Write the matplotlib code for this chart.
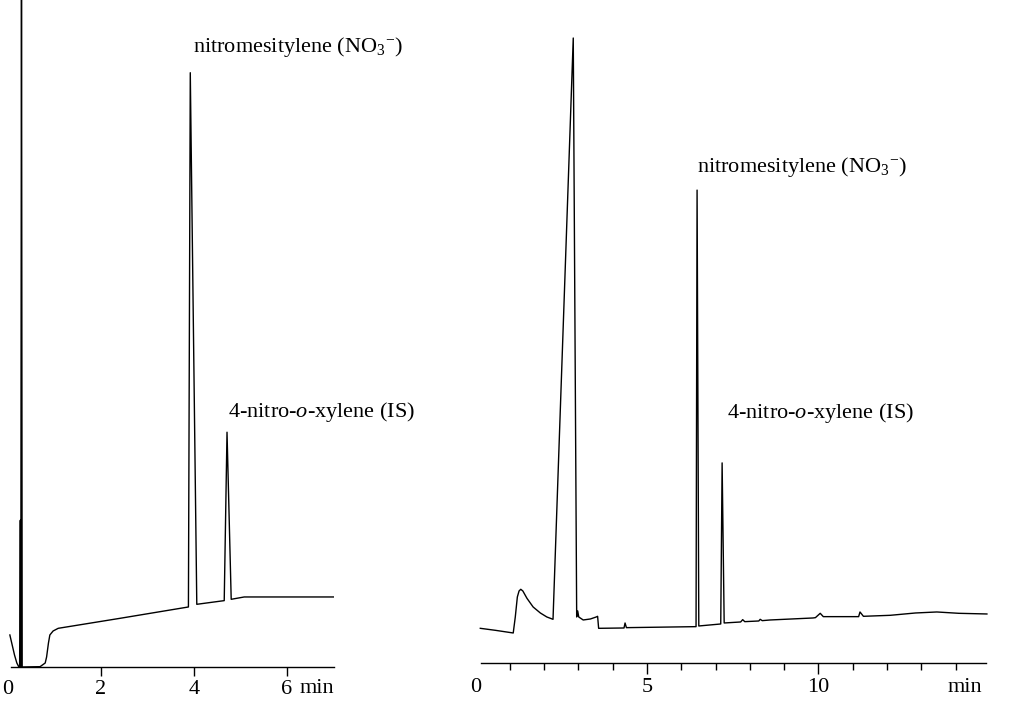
import matplotlib.pyplot as plt

plt.rcParams['font.family'] = ['Liberation Serif', 'DejaVu Serif']
plt.rcParams['mathtext.fontset'] = 'custom'
plt.rcParams['mathtext.rm'] = 'Liberation Serif'
plt.rcParams['mathtext.it'] = 'Liberation Serif:italic'

# Chap xromatogramma (vaqt, min / signal)
t_left = [0.04, 0.09, 0.14, 0.19, 0.23, 0.25, 0.265, 0.275, 0.29, 0.305, 0.69,
          0.80, 0.83, 0.87, 0.90, 0.97, 1.08, 2.41, 3.88, 3.92, 4.06, 4.65,
          4.71, 4.80, 5.08, 7.0]
y_left = [4.8, 3.3, 1.8, 0.6, 0.05, 0, 22.0, 0, 110, 0, 0.05,
          0.6, 1.5, 3.6, 4.8, 5.4, 5.8, 7.3, 9.0, 89.1, 9.4, 9.95,
          35.2, 10.15, 10.5, 10.5]

# O'ng xromatogramma
t_right = [0.14, 0.58, 1.10, 1.16, 1.22, 1.27, 1.32, 1.38, 1.50, 1.68, 1.89,
           2.08, 2.26, 2.85, 2.95, 2.98, 3.01, 3.14, 3.35, 3.52, 3.56, 3.59,
           4.33, 4.36, 4.40, 6.43, 6.46, 6.51, 7.15, 7.19, 7.25, 7.73, 7.79,
           7.85, 8.26, 8.30, 8.36, 8.59, 9.84, 9.91, 10.05, 10.14, 11.17,
           11.21, 11.31, 12.09, 12.83, 13.45, 14.09, 14.91]
y_right = [5.2, 4.9, 4.5, 6.9, 9.9, 10.8, 11.05, 10.8, 9.7, 8.4, 7.5,
           6.9, 6.55, 93.7, 6.9, 7.8, 6.9, 6.45, 6.6, 6.9, 7.0, 5.2,
           5.25, 6.0, 5.3, 5.45, 70.9, 5.55, 5.85, 30.0, 6.0, 6.15, 6.5,
           6.2, 6.3, 6.55, 6.35, 6.45, 6.75, 6.8, 7.45, 6.95, 6.95,
           7.65, 7.0, 7.15, 7.5, 7.65, 7.45, 7.35]

left_ticks = [0, 2, 4, 6]
right_major = [0, 5, 10]
right_minor = [1, 2, 3, 4, 6, 7, 8, 9, 11, 12, 13, 14]

peak_main = 'nitromesitylene (NO$_{3}$$^{-}$)'
peak_is = '4-nitro-$\\mathit{o}$-xylene (IS)'

W, H = 1009, 702
fig = plt.figure(figsize=(W / 100, H / 100), dpi=100)

# piksel koordinatalarida joylashtirish
ax1 = fig.add_axes([8 / W, (H - 667) / H, 325.5 / W, 667 / H])
ax2 = fig.add_axes([475.5 / W, (H - 663) / H, 514.5 / W, 663 / H])

ax1.plot(t_left, y_left, color='black', lw=1.0)
ax2.plot(t_right, y_right, color='black', lw=1.0)

ax1.set_xlim(0, 7)
ax1.set_ylim(0, 100)
ax2.set_xlim(0, 15.0)
ax2.set_ylim(0, 99.4)

for ax in (ax1, ax2):
    for s in ['top', 'right', 'left']:
        ax.spines[s].set_visible(False)
    ax.spines['bottom'].set_linewidth(1.0)
    ax.set_yticks([])
    ax.patch.set_alpha(0)

ax1.spines['bottom'].set_bounds(0.06, 7)
ax2.spines['bottom'].set_bounds(0.16, 14.88)

ax1.set_xticks(left_ticks)
ax1.tick_params(axis='x', direction='out', length=6.5, width=1.0,
                labelsize=16, pad=3)
ax1.xaxis.get_major_ticks()[0].tick1line.set_visible(False)

ax2.set_xticks(right_major)
ax2.set_xticks(right_minor, minor=True)
ax2.tick_params(axis='x', which='major', direction='out', length=8,
                width=1.0, labelsize=16, pad=3)
ax2.tick_params(axis='x', which='minor', direction='out', length=5, width=1.0)
ax2.xaxis.get_major_ticks()[0].tick1line.set_visible(False)

# "min" yozuvlari
ax1.text(6.65, -0.018, 'min', transform=ax1.get_xaxis_transform(),
         ha='center', va='top', fontsize=16)
ax2.text(14.27, -0.022, 'min', transform=ax2.get_xaxis_transform(),
         ha='center', va='top', fontsize=16)

# cho'qqi nomlari
ax1.text(3.98, 93.0, peak_main, ha='left', va='center', fontsize=16)
ax1.text(4.73, 38.2, peak_is, ha='left', va='center', fontsize=16)
ax2.text(6.46, 74.4, peak_main, ha='left', va='center', fontsize=16)
ax2.text(7.34, 37.5, peak_is, ha='left', va='center', fontsize=16)

fig.savefig('out.png', dpi=100)
